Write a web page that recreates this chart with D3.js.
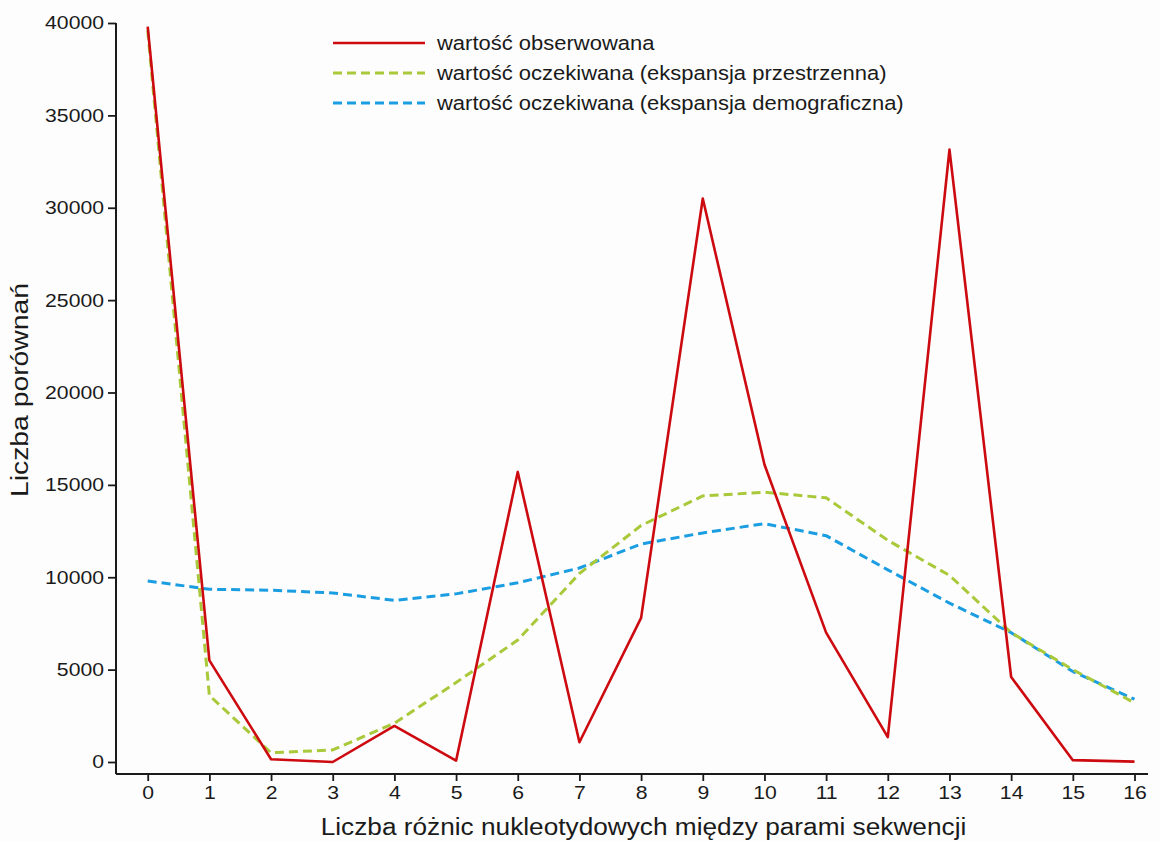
<!DOCTYPE html>
<html>
<head>
<meta charset="utf-8">
<script src="https://cdn.jsdelivr.net/npm/d3@7"></script>
<style>
  html, body { margin: 0; padding: 0; background: #fdfdfd; }
  svg { display: block; }
  text { font-family: "Liberation Sans", Arial, Helvetica, sans-serif; fill: #1a1a1a; }
</style>
</head>
<body>
<svg id="chart" width="1160" height="841"></svg>
<script>
// Number of nucleotide differences between sequence pairs (x) and pair counts
const differences = [0, 1, 2, 3, 4, 5, 6, 7, 8, 9, 10, 11, 12, 13, 14, 15, 16];
const observed = [39800, 5500, 150, 0, 1950, 70, 15700, 1070, 7800, 30500, 16100, 7000, 1350, 33150, 4600, 100, 20];
const expectedSpatial = [39600, 3600, 500, 650, 2100, 4300, 6600, 10200, 12800, 14400, 14600, 14300, 12000, 10100, 7000, 5000, 3200];
const expectedDemographic = [9800, 9350, 9300, 9150, 8750, 9100, 9700, 10500, 11800, 12400, 12900, 12250, 10400, 8600, 7000, 4900, 3400];
const yTicks = [0, 5000, 10000, 15000, 20000, 25000, 30000, 35000, 40000];
const seriesNames = [
  "wartość obserwowana",
  "wartość oczekiwana (ekspansja przestrzenna)",
  "wartość oczekiwana (ekspansja demograficzna)"
];
const xTitle = "Liczba różnic nukleotydowych między parami sekwencji";
const yTitle = "Liczba porównań";

const svg = d3.select("#chart");
const W = 1160, H = 841;
svg.append("rect").attr("width", W).attr("height", H).attr("fill", "#fdfdfd");

// Plot frame
const axisLeft = 116, axisRight = 1148, axisBottom = 774;
const x = d3.scaleLinear().domain([0, 16]).range([147.7, 1134.5]);
const y = d3.scaleLinear().domain([0, 40000]).range([762, 23]);

// Text in this figure is set slightly wide
const WIDE = 1.14;
function widen(sel, k) {
  sel.each(function () {
    const w = this.getComputedTextLength();
    d3.select(this).attr("textLength", w * k).attr("lengthAdjust", "spacingAndGlyphs");
  });
}

// Axes
const gx = svg.append("g").attr("transform", `translate(0,${axisBottom})`)
  .call(d3.axisBottom(x).tickValues(differences).tickFormat(d3.format("d")).tickSize(7).tickPadding(5));
gx.select(".domain").remove();
gx.selectAll(".tick line").attr("stroke", "#1a1a1a").attr("stroke-width", 1.8);
gx.selectAll(".tick text").attr("font-size", 18.6);
gx.append("line").attr("x1", axisLeft).attr("x2", axisRight)
  .attr("stroke", "#1a1a1a").attr("stroke-width", 2);

const gy = svg.append("g").attr("transform", `translate(${axisLeft},0)`)
  .call(d3.axisLeft(y).tickValues(yTicks).tickFormat(d3.format("d")).tickSize(8).tickPadding(4));
gy.select(".domain").remove();
gy.selectAll(".tick line").attr("stroke", "#1a1a1a").attr("stroke-width", 1.8);
gy.selectAll(".tick text").attr("font-size", 18.6);
gy.append("line").attr("y1", y(40000)).attr("y2", axisBottom)
  .attr("stroke", "#1a1a1a").attr("stroke-width", 2);

svg.selectAll("g").attr("font-family", null);
widen(gx.selectAll(".tick text"), WIDE);
widen(gy.selectAll(".tick text"), WIDE);

// Series
const series = [
  { name: seriesNames[2], values: expectedDemographic, color: "#1b9de2", dash: "9,5", width: 3 },
  { name: seriesNames[1], values: expectedSpatial, color: "#a9c93a", dash: "9,5", width: 3 },
  { name: seriesNames[0], values: observed, color: "#cc0a0f", dash: null, width: 2.6 }
];
const line = d3.line().x((d, i) => x(differences[i])).y(d => y(d));
svg.append("g").selectAll("path").data(series).join("path")
  .attr("d", s => line(s.values))
  .attr("fill", "none")
  .attr("stroke", s => s.color)
  .attr("stroke-width", s => s.width)
  .attr("stroke-dasharray", s => s.dash)
  .attr("stroke-linejoin", "round");

// Legend
const legendItems = series.slice().reverse();
const lg = svg.append("g").attr("transform", "translate(333,43)");
const rows = lg.selectAll("g").data(legendItems).join("g")
  .attr("transform", (d, i) => `translate(0,${i * 30})`);
rows.append("line").attr("x1", 0).attr("x2", 92).attr("y1", 0).attr("y2", 0)
  .attr("stroke", d => d.color).attr("stroke-width", d => d.width)
  .attr("stroke-dasharray", d => d.dash);
rows.append("text").attr("x", 104).attr("y", 0).attr("dy", "0.35em")
  .attr("font-size", 19.3).text(d => d.name);
widen(rows.selectAll("text"), WIDE);

// Axis titles
const xt = svg.append("text").attr("x", 643.5).attr("y", 835)
  .attr("text-anchor", "middle").attr("font-size", 23).text(xTitle);
widen(xt, WIDE);
const yt = svg.append("text").attr("transform", "translate(28,390) rotate(-90)")
  .attr("text-anchor", "middle").attr("font-size", 23).text(yTitle);
widen(yt, 1.23);
</script>
</body>
</html>
